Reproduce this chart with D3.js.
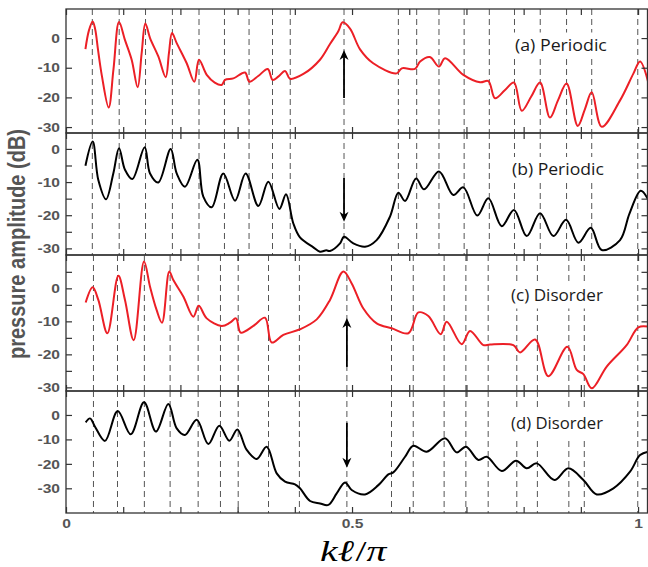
<!DOCTYPE html>
<html><head><meta charset="utf-8">
<script src="https://cdn.jsdelivr.net/npm/d3@7"></script>
<style>body{margin:0;background:#fff}svg{display:block}</style>
</head><body><svg id="chart" width="648" height="567"></svg>
<script>
// ---- data ----
const aX = [0.034,0.040,0.0466,0.051,0.056,0.0625,0.0746,0.083,0.0927,0.103,0.1148,0.1253,0.1323,0.1387,0.1469,0.1614,0.1743,0.180,0.1853,0.1935,0.211,0.2243,0.2325,0.246,0.260,0.272,0.278,0.2925,0.313,0.3205,0.336,0.3526,0.3613,0.371,0.383,0.3916,0.415,0.444,0.4615,0.476,0.4837,0.4965,0.514,0.537,0.578,0.587,0.610,0.619,0.636,0.652,0.6626,0.6946,0.7238,0.7383,0.75,0.767,0.783,0.7967,0.813,0.8287,0.846,0.860,0.875,0.8946,0.907,0.919,0.9365,0.9685,0.992,1.0035,1.0175];
const aY = [-3.7,2.5,5.6,3.0,-4.0,-12.5,-23.4,-10.5,5.4,-0.6,-7.3,-16.6,-5.0,4.9,0,-6.2,-13.2,-5.0,1.7,-1.7,-8.5,-14.7,-7.3,-12.4,-15.0,-15.8,-14.1,-13.6,-11.6,-14.7,-12.8,-10.4,-14.1,-13.0,-11.1,-13.7,-12.1,-7.3,-2.0,2.3,5.3,3.2,-3.8,-8.5,-11.9,-10.2,-10.4,-7.9,-6.4,-9.6,-6.8,-12.4,-14.9,-14.5,-20.3,-17.6,-15.0,-24.5,-19.8,-15.0,-26.8,-21.0,-15.3,-29.6,-24.0,-18.3,-29.9,-21.0,-11.9,-7.9,-14.7];

const bX = [0.034,0.0466,0.0565,0.0699,0.0827,0.0927,0.1031,0.116,0.1375,0.1469,0.1614,0.183,0.1935,0.208,0.2296,0.24,0.2547,0.275,0.2955,0.314,0.3362,0.3537,0.373,0.3846,0.3974,0.409,0.4324,0.444,0.455,0.4615,0.479,0.486,0.5023,0.5227,0.543,0.5664,0.581,0.5927,0.612,0.626,0.652,0.677,0.6946,0.719,0.7383,0.7617,0.783,0.8054,0.8287,0.852,0.8741,0.8957,0.9173,0.9365,0.9685,0.985,1.0047,1.0175];
const bY = [-5.1,2.2,-9.4,-15.2,-7.4,0.2,-6.3,-9.1,0.5,-7.4,-10.1,0,-7.4,-11.4,-3.3,-14.4,-17.6,-7.4,-15.6,-7.4,-17.2,-9.9,-18.1,-13.7,-22.5,-26.7,-29.7,-31.0,-30.6,-30.8,-28.5,-26.5,-28.5,-29.5,-27.5,-20.4,-13.2,-15.7,-8.9,-12.2,-6.8,-13.9,-11.6,-20.1,-14.9,-23.3,-18.4,-26.3,-19.4,-26.3,-21.4,-28.3,-23.8,-30.5,-27.5,-19.5,-12.6,-15.2];

const cX = [0.0344,0.0466,0.0565,0.0723,0.0915,0.1031,0.1183,0.1364,0.1469,0.1585,0.1678,0.1806,0.1876,0.2051,0.2226,0.232,0.246,0.2722,0.2867,0.2972,0.3054,0.3275,0.3479,0.3596,0.3799,0.4091,0.4383,0.4615,0.4848,0.4994,0.5198,0.5431,0.5694,0.5985,0.616,0.6334,0.655,0.6655,0.6917,0.7063,0.7296,0.7413,0.782,0.7937,0.82,0.8432,0.8764,0.8928,0.9044,0.919,0.9452,0.98,1.0005,1.0175];
const cY = [-4.3,0.3,-3.5,-13.6,3.8,-3.5,-15.7,8.1,0.5,-6.6,-10.4,5.1,2.5,-2.5,-8.6,-5.3,-9.1,-11.4,-10.4,-9.1,-13.4,-11.4,-8.9,-16.4,-14.1,-12.4,-9.4,-3.5,5.1,1.5,-6.1,-10.6,-12.1,-13.6,-7.3,-8.4,-13.9,-10.1,-16.9,-12.9,-17.2,-17.0,-17.2,-19.4,-15.5,-26.6,-17.7,-24.7,-26.0,-30.3,-23.7,-17.2,-11.8,-11.6];

const dX = [0.0344,0.042,0.0507,0.0682,0.0904,0.1131,0.1364,0.1573,0.1789,0.1935,0.208,0.2285,0.2488,0.268,0.2855,0.2995,0.3159,0.3334,0.3508,0.3683,0.3829,0.4003,0.409,0.4266,0.444,0.4586,0.4732,0.4878,0.4994,0.5227,0.546,0.5635,0.5722,0.5927,0.6072,0.6306,0.6626,0.683,0.6993,0.7209,0.7355,0.7617,0.7867,0.8054,0.8229,0.8537,0.8782,0.9044,0.9278,0.9569,0.986,1.0035,1.0175];
const dY = [-3,-1.4,-4.8,-10.6,1.6,-7.9,5.2,-6.8,4.5,-5.5,-8.2,-2,-11.9,-4.4,-10.5,-5.9,-14.3,-18,-13,-23.9,-27.3,-28.4,-30,-35.2,-36.2,-36.8,-32.1,-27.6,-30.7,-32.5,-28.7,-24.3,-23.5,-17.1,-12.6,-15,-9.5,-15.3,-13,-18.4,-17.1,-22.9,-18.7,-21.8,-19.8,-26.6,-21.8,-26.6,-32.5,-30,-23.2,-16.4,-15];

const periodicLines = [0.046,0.093,0.139,0.186,0.2325,0.277,0.320,0.361,0.392,0.486,0.581,0.613,0.652,0.696,0.740,0.784,0.829,0.875,0.919,0.9995];
const disorderLines = [0.048,0.090,0.137,0.182,0.231,0.270,0.301,0.354,0.408,0.491,0.569,0.607,0.661,0.699,0.738,0.788,0.824,0.879,0.906,0.9995];

const panelLabels = ["(a) Periodic","(b) Periodic","(c) Disorder","(d) Disorder"];
const xTickValues = [0,0.1,0.2,0.3,0.4,0.5,0.6,0.7,0.8,0.9,1.0];
const xLabelValues = [0,0.5,1];
const xTickLabels = ["0","0.5","1"];
const yLabelValues = [-30,-20,-10,0];
const yTickLabels = ["-30","-20","-10","0"];
const yTicksCoarse = [-30,-20,-10,0];
const yTicksFine = [-30,-25,-20,-15,-10,-5,0];
const yTicksFineC = [-30,-25,-20,-15,-10,-5,0,5];
const yLabelText = "pressure amplitude (dB)";

// ---- layout ----
const RED = "#ec1f26", BLACK = "#000";
const left = 66, right = 647.5;
const x = d3.scaleLinear().domain([0, 1.0165]).range([left, right]);

const panels = [
  {top:9,   bottom:133, domain:[-32,9.8],    ticks:yTicksCoarse, xs:aX, ys:aY, color:RED,   lines:periodicLines, arrow:{x:0.486, from:-20.2, to:-4.0}, lx:515, lb:50.5},
  {top:133, bottom:255, domain:[-32,4.8],    ticks:yTicksFine,   xs:bX, ys:bY, color:BLACK, lines:periodicLines, arrow:{x:0.486, from:-8.8, to:-22.0}, lx:512, lb:175},
  {top:255, bottom:391, domain:[-31.1,10.1], ticks:yTicksFineC,  xs:cX, ys:cY, color:RED,   lines:disorderLines, arrow:{x:0.491, from:-23.8, to:-9.0}, lx:511, lb:300.5},
  {top:391, bottom:513, domain:[-40.1,9.8],  ticks:yTicksCoarse, xs:dX, ys:dY, color:BLACK, lines:disorderLines, arrow:{x:0.491, from:-3.2, to:-21.6}, lx:511, lb:429}
];

const svg = d3.select('#chart');
const defs = svg.append('defs');
const tickFont = "'Liberation Sans', Arial, sans-serif";

function fitWidth(sel, target, x0, y0) {
  const w = sel.node().getComputedTextLength();
  const s = w > 0 ? target / w : 1;
  sel.attr('x', 0).attr('y', 0).attr('transform', `translate(${x0},${y0}) scale(${s},1)`);
}

panels.forEach((p, i) => {
  const y = d3.scaleLinear().domain(p.domain).range([p.bottom, p.top]);
  const g = svg.append('g');
  defs.append('clipPath').attr('id', 'clip' + i).append('rect')
    .attr('x', left).attr('y', p.top).attr('width', right - left).attr('height', p.bottom - p.top);

  g.append('g').selectAll('line').data(p.lines).join('line')
    .attr('x1', d => x(d)).attr('x2', d => x(d))
    .attr('y1', p.top).attr('y2', p.bottom)
    .attr('stroke', '#555').attr('stroke-width', 1).attr('stroke-dasharray', '6,4');

  // white box behind the panel label
  g.append('rect').attr('x', p.lx - 5).attr('y', p.lb - 18).attr('width', 102).attr('height', 26)
    .attr('fill', '#fff');

  const data = p.xs.map((v, j) => [v, p.ys[j]]);
  g.append('path').datum(data)
    .attr('clip-path', `url(#clip${i})`)
    .attr('fill', 'none').attr('stroke', p.color).attr('stroke-width', 2)
    .attr('stroke-linejoin', 'round')
    .attr('d', d3.line().x(d => x(d[0])).y(d => y(d[1])).curve(d3.curveCatmullRom.alpha(0.5)));

  const yFmt = d => { const k = yLabelValues.indexOf(d); return k >= 0 ? yTickLabels[k] : ''; };
  const ax = [
    g.append('g').attr('transform', `translate(${left},0)`)
      .call(d3.axisLeft(y).tickValues(p.ticks).tickSizeInner(-6).tickSizeOuter(0).tickPadding(5).tickFormat(yFmt)),
    g.append('g').attr('transform', `translate(${right},0)`)
      .call(d3.axisRight(y).tickValues(p.ticks).tickSizeInner(-6).tickSizeOuter(0).tickFormat(() => '')),
    g.append('g').attr('transform', `translate(0,${p.top})`)
      .call(d3.axisTop(x).tickValues(xTickValues).tickSizeInner(-6).tickSizeOuter(0).tickFormat(() => '')),
    g.append('g').attr('transform', `translate(0,${p.bottom})`)
      .call(d3.axisBottom(x).tickValues(xTickValues).tickSizeInner(-6).tickSizeOuter(0).tickPadding(6)
        .tickFormat(d => { if (i !== 3) return ''; const k = xLabelValues.indexOf(d); return k >= 0 ? xTickLabels[k] : ''; }))
  ];
  ax.forEach(a => {
    a.select('.domain').remove();
    a.selectAll('.tick line').attr('stroke', '#333').attr('stroke-width', 1.2);
    a.selectAll('.tick text').attr('font-family', tickFont).attr('font-weight', 'bold')
      .attr('font-size', 13).attr('fill', '#555')
      .attr('transform', 'scale(1.2,1)');
  });

  g.append('rect').attr('x', left).attr('y', p.top).attr('width', right - left).attr('height', p.bottom - p.top)
    .attr('fill', 'none').attr('stroke', '#333').attr('stroke-width', 1.3);

  const ax0 = x(p.arrow.x), y0 = y(p.arrow.from), y1 = y(p.arrow.to);
  const dir = y1 < y0 ? -1 : 1;
  g.append('line').attr('x1', ax0).attr('x2', ax0).attr('y1', y0).attr('y2', y1 - dir * 6)
    .attr('stroke', '#000').attr('stroke-width', 1.8);
  g.append('path')
    .attr('d', `M${ax0},${y1} L${ax0 - 4.5},${y1 - dir * 10} L${ax0},${y1 - dir * 7} L${ax0 + 4.5},${y1 - dir * 10} Z`)
    .attr('fill', '#000');

  const lab = g.append('text')
    .attr('font-family', "'Open Sans', 'Noto Sans', sans-serif").attr('font-size', 15.5)
    .attr('fill', '#1a1a1a')
    .text(panelLabels[i]);
  fitWidth(lab, 92, p.lx, p.lb);
});

svg.append('text')
  .attr('transform', 'translate(25,244) rotate(-90) scale(1,1.15)')
  .attr('text-anchor', 'middle')
  .attr('font-family', tickFont).attr('font-weight', 'bold').attr('font-size', 20)
  .attr('fill', '#555')
  .text(yLabelText);

const xt = svg.append('text')
  .attr('font-family', "'Liberation Serif', 'DejaVu Serif', serif").attr('font-size', 30)
  .attr('fill', '#000');
xt.append('tspan').attr('font-style', 'italic').text('kℓ');
xt.append('tspan').attr('dx', 1).text('/');
xt.append('tspan').attr('font-style', 'italic').text('π');
fitWidth(xt, 65, 320, 561);
</script>
</body></html>
